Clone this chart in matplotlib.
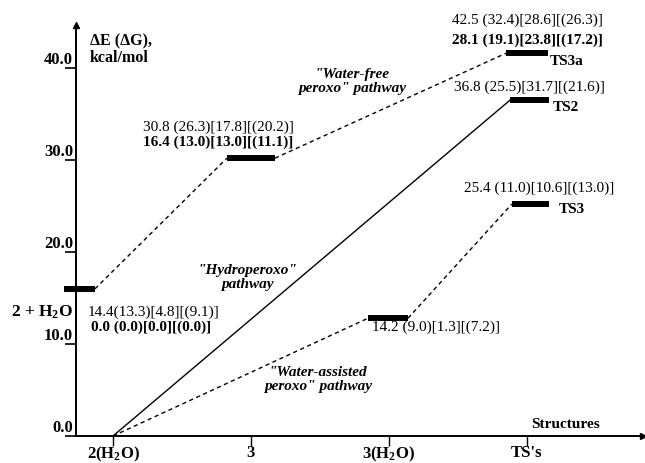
import matplotlib
matplotlib.use("Agg")
import matplotlib.pyplot as plt

plt.rcParams['font.family'] = ['Liberation Serif', 'DejaVu Serif']
plt.rcParams['mathtext.default'] = 'regular'

# structures on the x axis
categories = ['2(H$_2$O)', '3', '3(H$_2$O)', "TS's"]
cat_pos = [1, 2, 3, 4]

# energy levels as drawn (schematic heights), with bar start / end in category units
level_names = ['2+H2O', '3', '3(H2O)', 'TS3a', 'TS2', 'TS3']
level_y = [16.0, 30.2, 12.8, 41.6, 36.5, 25.2]
level_x0 = [0.645, 1.826, 2.848, 3.848, 3.877, 3.89]
level_x1 = [0.870, 2.174, 3.138, 4.152, 4.160, 4.16]

# energy labels
top_labels = ['14.4(13.3)[4.8][(9.1)]', '30.8 (26.3)[17.8][(20.2)]',
              '14.2 (9.0)[1.3][(7.2)]', '42.5 (32.4)[28.6][(26.3)]',
              '36.8 (25.5)[31.7][(21.6)]', '25.4 (11.0)[10.6][(13.0)]']
bold_labels = ['0.0 (0.0)[0.0][(0.0)]', '16.4 (13.0)[13.0][(11.1)]',
               '28.1 (19.1)[23.8][(17.2)]']

yticks = [0, 10, 20, 30, 40]

fig = plt.figure(figsize=(6.45, 4.63), dpi=100)
ax = fig.add_axes([76 / 645, 27 / 463, 567 / 645, 411 / 463])
ax.set_xlim(0.732, 4.841)
ax.set_ylim(0, 44.67)

for s in ['top', 'right']:
    ax.spines[s].set_visible(False)
for s in ['left', 'bottom']:
    ax.spines[s].set_linewidth(1.4)
ax.plot(1, 0, '>k', ms=5, transform=ax.transAxes, clip_on=False)
ax.plot(0, 1, '^k', ms=5, transform=ax.transAxes, clip_on=False)

ax.set_yticks(yticks)
ax.set_yticklabels(['%.1f' % v for v in yticks], fontsize=12, fontweight='bold')
ax.tick_params(axis='y', direction='out', length=8, width=1.2, pad=-6)
for lbl in ax.get_yticklabels():
    lbl.set_verticalalignment('bottom')

ax.set_xticks(cat_pos)
ax.set_xticklabels(categories, fontsize=12, fontweight='bold')
ax.tick_params(axis='x', direction='out', length=7, width=1.0, pad=-0.5)

dash = (0, (3, 2.5))
i = {n: k for k, n in enumerate(level_names)}

def connect(a_x, a_y, b_x, b_y, ls):
    ax.plot([a_x, b_x], [a_y, b_y], color='black', lw=1.0, linestyle=ls)

# hydroperoxo pathway (solid) and water-assisted (dashed) from 2(H2O) at zero
connect(cat_pos[0], 0, level_x0[i['TS2']], level_y[i['TS2']], '-')
connect(cat_pos[0], 0, level_x0[i['3(H2O)']], level_y[i['3(H2O)']], dash)
connect(level_x1[i['3(H2O)']], level_y[i['3(H2O)']], level_x0[i['TS3']], level_y[i['TS3']], dash)
# water-free peroxo pathway
connect(level_x1[i['2+H2O']], level_y[i['2+H2O']], level_x0[i['3']], level_y[i['3']], dash)
connect(level_x1[i['3']], level_y[i['3']], level_x0[i['TS3a']], level_y[i['TS3a']], dash)

for x0, x1, y in zip(level_x0, level_x1, level_y):
    ax.plot([x0, x1], [y, y], color='black', lw=4.3, solid_capstyle='butt', clip_on=False)

fs = 11
ax.text(0.833, 43.8, 'ΔE (ΔG),\nkcal/mol', fontsize=11.5, fontweight='bold',
        ha='left', va='top', linespacing=1.1)
ax.text(0.71, 13.4, '2 + H$_2$O', fontsize=12.5, fontweight='bold', ha='right', va='center',
        clip_on=False)

ax.text(0.819, 13.5, top_labels[0], fontsize=fs, ha='left', va='center')
ax.text(0.841, 11.85, bold_labels[0], fontsize=fs, fontweight='bold', ha='left', va='center')
ax.text(1.217, 33.6, top_labels[1], fontsize=fs, ha='left', va='center')
ax.text(1.217, 31.96, bold_labels[1], fontsize=fs, fontweight='bold', ha='left', va='center')
ax.text(2.877, 11.85, top_labels[2], fontsize=fs, ha='left', va='center')
ax.text(4.0, 45.2, top_labels[3], fontsize=fs, ha='center', va='center', clip_on=False)
ax.text(4.0, 43.0, bold_labels[2], fontsize=fs, fontweight='bold', ha='center', va='center')
ax.text(4.02, 37.9, top_labels[4], fontsize=fs, ha='center', va='center')
ax.text(4.087, 26.96, top_labels[5], fontsize=fs, ha='center', va='center')

ax.text(4.167, 40.65, 'TS3a', fontsize=fs, fontweight='bold', ha='left', va='center')
ax.text(4.188, 35.65, 'TS2', fontsize=fs, fontweight='bold', ha='left', va='center')
ax.text(4.232, 24.57, 'TS3', fontsize=fs, fontweight='bold', ha='left', va='center')

ax.text(2.732, 38.5, '"Water-free\nperoxo" pathway', fontsize=fs, fontweight='bold',
        fontstyle='italic', ha='center', va='center', linespacing=1.1)
ax.text(1.971, 17.2, '"Hydroperoxo"\npathway', fontsize=fs, fontweight='bold',
        fontstyle='italic', ha='center', va='center', linespacing=1.1)
ax.text(2.486, 6.1, '"Water-assisted\nperoxo" pathway', fontsize=fs, fontweight='bold',
        fontstyle='italic', ha='center', va='center', linespacing=1.1)
ax.text(4.283, 1.2, 'Structures', fontsize=fs, fontweight='bold', ha='center', va='center')

fig.savefig('out.png', dpi=100)
